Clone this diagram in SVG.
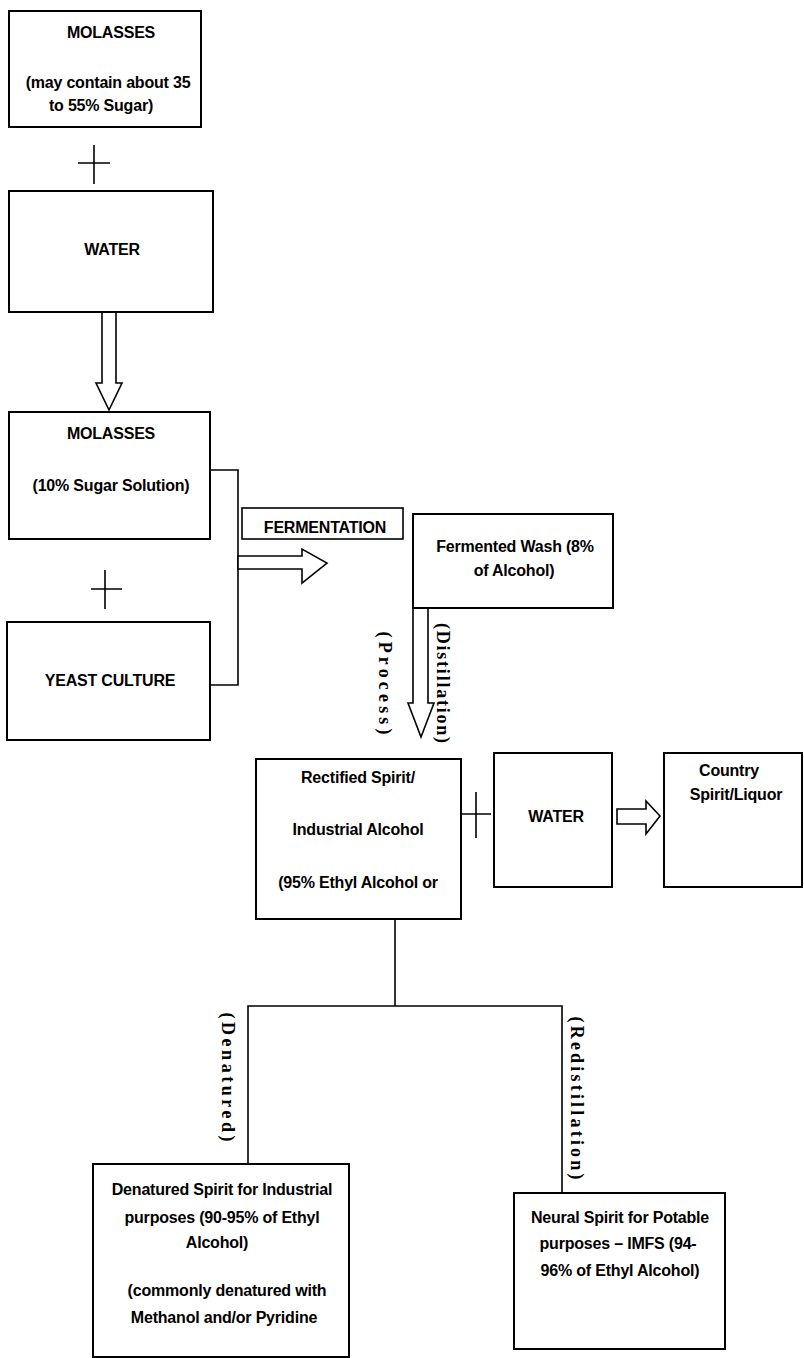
<svg xmlns="http://www.w3.org/2000/svg" width="804" height="1358" viewBox="0 0 804 1358">
<style>
.box{fill:#fff;stroke:#000;stroke-width:2}
.ln{fill:none;stroke:#000;stroke-width:1.6}
.arr{fill:#fff;stroke:#000;stroke-width:1.6;stroke-linejoin:miter}
.t{font-family:"Liberation Sans",Arial,sans-serif;font-weight:bold;font-size:16px;fill:#000;text-anchor:middle;letter-spacing:-0.2px}
.r{font-family:"Liberation Serif","Times New Roman",serif;font-weight:bold;font-size:18px;fill:#000;text-anchor:middle}
</style>
<rect width="804" height="1358" fill="#fff"/>

<g id="connectors">
  <!-- plus signs -->
  <path class="ln" d="M94 145V184M78 163H110"/>
  <path class="ln" d="M105 570V609M91 589H122"/>
  <path class="ln" d="M476 792V838M461 814H491"/>
  <!-- water to molasses arrow -->
  <polygon class="arr" points="102,312 116,312 116,383 122,383 109,410 96,383 102,383"/>
  <!-- bracket from molasses and yeast -->
  <path class="ln" d="M210 470H238V685H210"/>
  <!-- fermentation arrow -->
  <polygon class="arr" points="238,556 302,556 302,549 327,563 302,583 302,569 238,569"/>
  <!-- distillation arrow -->
  <polygon class="arr" points="413,607 428,607 428,703 434,703 421,737 408,703 413,703"/>
  <!-- water to country arrow -->
  <polygon class="arr" points="617,809 646,809 646,801 660,816 646,834 646,824 617,824"/>
  <!-- branch -->
  <path class="ln" d="M395 919V1006M248 1164V1006H562V1193"/>
  <text class="r" transform="translate(385,683) rotate(90)" dy="6" textLength="103" lengthAdjust="spacing">(Process)</text>
  <text class="r" transform="translate(443,683) rotate(90)" dy="6" textLength="120" lengthAdjust="spacing">(Distillation)</text>
  <text class="r" transform="translate(228,1077) rotate(90)" dy="6" textLength="129" lengthAdjust="spacing">(Denatured)</text>
  <text class="r" transform="translate(577,1098) rotate(90)" dy="6" textLength="163" lengthAdjust="spacing">(Redistillation)</text>
</g>

<g id="molasses1">
  <rect class="box" x="9" y="11" width="192" height="116"/>
  <text class="t" x="111" y="38">MOLASSES</text>
  <text class="t" x="108" y="88">(may contain about 35</text>
  <text class="t" x="101" y="111">to 55% Sugar)</text>
</g>

<g id="water1">
  <rect class="box" x="9" y="191" width="204" height="121"/>
  <text class="t" x="112" y="255">WATER</text>
</g>

<g id="molasses2">
  <rect class="box" x="9" y="412" width="201" height="127"/>
  <text class="t" x="111" y="439">MOLASSES</text>
  <text class="t" x="111" y="491">(10% Sugar Solution)</text>
</g>

<g id="yeast">
  <rect class="box" x="7" y="622" width="203" height="118"/>
  <text class="t" x="110" y="686">YEAST CULTURE</text>
</g>

<g id="fermentation">
  <rect class="box" x="242" y="508" width="161" height="31" style="stroke-width:1.6"/>
  <text class="t" x="325" y="533">FERMENTATION</text>
</g>

<g id="fermented-wash">
  <rect class="box" x="413" y="514" width="200" height="94"/>
  <text class="t" x="515" y="552">Fermented Wash (8%</text>
  <text class="t" x="514" y="576">of Alcohol)</text>
</g>

<g id="rectified">
  <rect class="box" x="256" y="759" width="205" height="160"/>
  <text class="t" x="358" y="783">Rectified Spirit/</text>
  <text class="t" x="358" y="835">Industrial Alcohol</text>
  <text class="t" x="358" y="888">(95% Ethyl Alcohol or</text>
</g>

<g id="water2">
  <rect class="box" x="494" y="753" width="118" height="134"/>
  <text class="t" x="556" y="822">WATER</text>
</g>

<g id="country">
  <rect class="box" x="664" y="753" width="138" height="134"/>
  <text class="t" x="729" y="776">Country</text>
  <text class="t" x="736" y="800">Spirit/Liquor</text>
</g>

<g id="denatured">
  <rect class="box" x="93" y="1164" width="256" height="193"/>
  <text class="t" x="222" y="1195">Denatured Spirit for Industrial</text>
  <text class="t" x="222" y="1223">purposes (90-95% of Ethyl</text>
  <text class="t" x="217" y="1248">Alcohol)</text>
  <text class="t" x="227" y="1296">(commonly denatured with</text>
  <text class="t" x="224" y="1323">Methanol and/or Pyridine</text>
</g>

<g id="neutral">
  <rect class="box" x="514" y="1193" width="211" height="156"/>
  <text class="t" x="620" y="1223">Neural Spirit for Potable</text>
  <text class="t" x="618" y="1249">purposes – IMFS (94-</text>
  <text class="t" x="620" y="1276">96% of Ethyl Alcohol)</text>
</g>
</svg>
